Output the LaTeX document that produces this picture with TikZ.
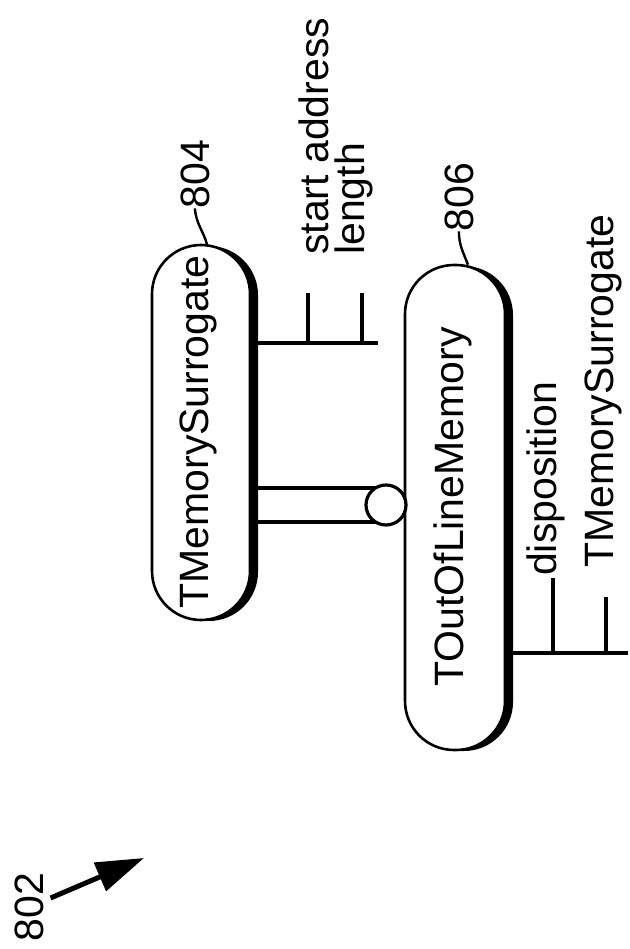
\documentclass[tikz,border=0pt]{standalone}
\usepackage{fontspec}
\setmainfont{Liberation Sans}
\usetikzlibrary{arrows.meta,shadows}
\begin{document}
\begin{tikzpicture}[x=1pt,y=-1pt,
  cls/.style={draw, line width=2.6pt, fill=white, rounded corners=49pt, inner sep=0pt,
    drop shadow={shadow xshift=8pt, shadow yshift=-1pt, fill=black, opacity=1}},
  txt/.style={rotate=90, inner sep=0pt, font=\fontsize{41}{41}\selectfont},
  ln/.style={line width=3.2pt},
  lead/.style={line width=2.4pt},
]
\fill[white] (0,0) rectangle (629,949);
\useasboundingbox (0,0) rectangle (629,949);
% classes
\node[cls, minimum width=98pt, minimum height=375pt] (b1) at (201,432.5) {};
\node[cls, minimum width=100pt, minimum height=485pt] (b2) at (455,507.5) {};
\node[txt, anchor=base] (t1) at (208,432) {TMemorySurrogate};
\node[txt, anchor=base] (t2) at (463,507) {TOutOfLineMemory};
% attributes of b1
\coordinate (a1) at (378,343);
\coordinate (k1) at (308,343);
\coordinate (k1t) at (308,293);
\coordinate (k2) at (362,343);
\coordinate (k2t) at (362,293);
\draw[ln] (b1.east |- a1) -- (a1);
\draw[ln] (k1t) -- (k1);
\draw[ln] (k2t) -- (k2);
\node[txt, anchor=base west] (s1) at (328,255) {start address};
\node[txt, anchor=base west] (s2) at (364,255) {length};
% attributes of b2
\coordinate (a2) at (628,653);
\coordinate (m1) at (553,653);
\coordinate (m1t) at (553,578);
\coordinate (m2) at (606,653);
\coordinate (m2t) at (606,597);
\draw[ln] (b2.east |- a2) ++(7,0) -- (a2);
\draw[ln] (m1t) -- (m1);
\draw[ln] (m2t) -- (m2);
\node[txt, anchor=base west] (d1) at (556,576) {disposition};
\node[txt, anchor=base west] (d2) at (613,568) {TMemorySurrogate};
% has-a link
\node[circle, minimum size=42pt, inner sep=0pt] (c) at (386,505) {};
\draw[ln] (b1.east |- 0,488) -- (c.center |- 0,488);
\draw[ln] (b1.east |- 0,522) -- (c.center |- 0,522);
\draw[line width=3.2pt, fill=white] (c.center) circle (20pt);
% reference numerals
\node[txt, anchor=base] (n804) at (209,174) {804};
\node[txt, anchor=base] (n806) at (473,197) {806};
\node[txt, anchor=base] (n802) at (43,907) {802};
\draw[lead] (b1.north) ++(6,1) .. controls (204,232) and (196,224) .. (n804.west);
\draw[lead] (b2.north) ++(13,1) .. controls (463,252) and (459,245) .. (n806.west);
\coordinate (arr) at (144,858);
\draw[line width=5pt, -{Triangle[length=48pt,width=30pt]}] (n802.south) ++(7,-9) -- (arr);
\end{tikzpicture}
\end{document}
